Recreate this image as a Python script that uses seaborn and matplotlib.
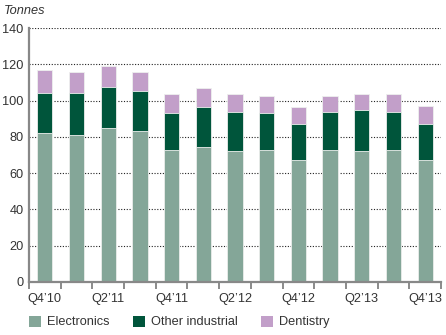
import matplotlib
matplotlib.use("Agg")
import matplotlib.pyplot as plt
import seaborn as sns
import numpy as np
import pandas as pd
from matplotlib.patches import Patch
from matplotlib.ticker import FixedLocator

quarters = ["Q4’10", "Q1’11", "Q2’11", "Q3’11", "Q4’11", "Q1’12", "Q2’12",
            "Q3’12", "Q4’12", "Q1’13", "Q2’13", "Q3’13", "Q4’13"]
electronics = [82.0, 81.0, 85.0, 83.4, 72.8, 74.6, 72.2, 72.8, 67.3, 72.8, 72.2, 72.8, 67.3]
other_industrial = [22.4, 23.4, 22.5, 21.9, 20.2, 21.7, 21.5, 20.2, 20.0, 20.9, 22.4, 20.9, 20.0]
dentistry = [12.3, 11.6, 11.5, 10.7, 10.6, 10.7, 9.9, 9.7, 9.0, 9.0, 9.0, 9.9, 9.7]
shown_labels = ["Q4’10", "Q2’11", "Q4’11", "Q2’12", "Q4’12", "Q2’13", "Q4’13"]

series_names = ["Electronics", "Other industrial", "Dentistry"]
colors = {"Electronics": "#84a698", "Other industrial": "#00553b", "Dentistry": "#c29fc9"}

sns.set_theme(style="white")
plt.rcParams["font.family"] = ["Liberation Sans", "DejaVu Sans"]

e = np.array(electronics)
o = np.array(other_industrial)
d = np.array(dentistry)
df = pd.DataFrame({
    "quarter": quarters,
    "Electronics": e,
    "Other industrial": e + o,
    "Dentistry": e + o + d,
})

FS = 9.2
fig = plt.figure(figsize=(4.46, 3.35), dpi=100)
ax = fig.add_axes([29/446, 53/335, 412/446, 254/335])

for name in ["Dentistry", "Other industrial", "Electronics"]:
    sns.barplot(data=df, x="quarter", y=name, color=colors[name], ax=ax,
                width=0.48, saturation=1, edgecolor="#eef0ee", linewidth=0.6,
                zorder=3)

ax.set_xlim(-0.5, len(quarters) - 0.5)
ax.set_ylim(0, 140)
ax.set_yticks(range(0, 141, 20))
for yv in range(20, 141, 20):
    ax.axhline(yv, color="#222222", linestyle=(0, (1, 1.5)), linewidth=0.8, zorder=1)

ax.set_xlabel("")
ax.set_ylabel("")
idx = [quarters.index(q) for q in shown_labels]
ax.set_xticks(idx)
ax.set_xticklabels(shown_labels)
ax.xaxis.set_minor_locator(FixedLocator(np.arange(-0.5, len(quarters), 1.0)))
ax.tick_params(axis="x", which="major", length=0, pad=8, labelsize=FS, labelcolor="#333333")
ax.tick_params(axis="x", which="minor", length=5, width=1.2, color="#777777", direction="out", bottom=True)
ax.tick_params(axis="y", length=0, pad=4, labelsize=FS, labelcolor="#333333")

for s in ["top", "right"]:
    ax.spines[s].set_visible(False)
ax.spines["left"].set_color("#888888")
ax.spines["left"].set_linewidth(1.6)
ax.spines["bottom"].set_color("#888888")
ax.spines["bottom"].set_linewidth(1.6)
ax.spines["left"].set_zorder(4)
ax.spines["bottom"].set_zorder(4)

fig.text(4/446, 1 - 11/335, "Tonnes", fontsize=FS, style="italic", color="#333333", va="center", ha="left")

handles = [Patch(facecolor=colors[n], edgecolor="none") for n in series_names]
fig.legend(handles, series_names, ncol=3, loc="center left",
           bbox_to_anchor=(17/446, 1 - 322/335), frameon=False, fontsize=FS,
           handlelength=0.95, handleheight=0.95, handletextpad=0.5, columnspacing=1.8,
           labelcolor="#333333")

fig.savefig("out.png", dpi=100)
